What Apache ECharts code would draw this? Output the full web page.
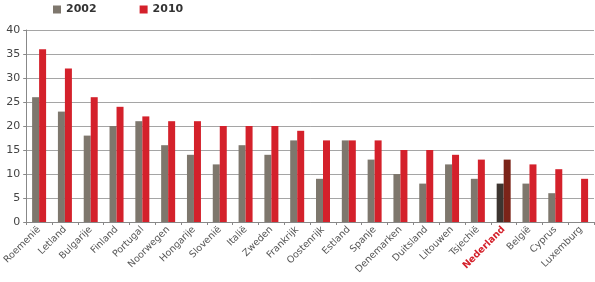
<!DOCTYPE html>
<html><head><meta charset="utf-8">
<script src="https://cdn.jsdelivr.net/npm/echarts@6/dist/echarts.min.js"></script>
<style>html,body{margin:0;padding:0;background:#fff}#c{width:595px;height:282px}</style>
</head><body><div id="c"></div>
<script>
const categories = ["Roemenië","Letland","Bulgarije","Finland","Portugal","Noorwegen","Hongarije","Slovenië","Italië","Zweden","Frankrijk","Oostenrijk","Estland","Spanje","Denemarken","Duitsland","Litouwen","Tsjechië","Nederland","België","Cyprus","Luxemburg"];
const values2002 = [26,23,18,20,21,16,14,12,16,14,17,9,17,13,10,8,12,9,8,8,6,null];
const values2010 = [36,32,26,24,22,21,21,20,20,20,19,17,17,17,15,15,14,13,13,12,11,9];
const highlight = "Nederland";

const gray = "#7e776d", red = "#d4212b";
const hlGray = "#3d3530", hlRed = "#7b2419";
const chart = echarts.init(document.getElementById('c'), null, {renderer:'canvas'});
const mk = (arr, hc) => arr.map((v,i) => categories[i] === highlight ? {value:v, itemStyle:{color:hc}} : v);
chart.setOption({
  animation:false,
  textStyle:{fontFamily:"DejaVu Sans"},
  legend:{
    left:48, top:-1, itemWidth:8, itemHeight:8, itemGap:43,
    textStyle:{fontWeight:'bold', fontSize:11, color:'#333'},
    data:[{name:'2002',icon:'rect'},{name:'2010',icon:'rect'}]
  },
  grid:{left:22, right:1, top:30, bottom:60},
  xAxis:{
    type:'category', data:categories,
    axisLine:{lineStyle:{color:'#888'}},
    axisTick:{show:true, length:3, lineStyle:{color:'#888'}},
    axisLabel:{rotate:45, fontSize:9.5, color:'#555', margin:6,
      formatter: v => v === highlight ? '{h|'+v+'}' : v,
      rich:{h:{color:'#d4212b', fontWeight:'bold', fontSize:9.5}}}
  },
  yAxis:{
    type:'value', min:0, max:40, interval:5,
    axisLine:{show:true, lineStyle:{color:'#888'}},
    axisTick:{show:true, length:3, lineStyle:{color:'#888'}},
    axisLabel:{fontSize:11, color:'#444', margin:6},
    splitLine:{lineStyle:{color:'#a5a5a5', width:1}}
  },
  series:[
    {name:'2002', type:'bar', data:mk(values2002, hlGray), itemStyle:{color:gray}, barWidth:7, barGap:'0%'},
    {name:'2010', type:'bar', data:mk(values2010, hlRed), itemStyle:{color:red}, barWidth:7}
  ]
});
</script></body></html>
